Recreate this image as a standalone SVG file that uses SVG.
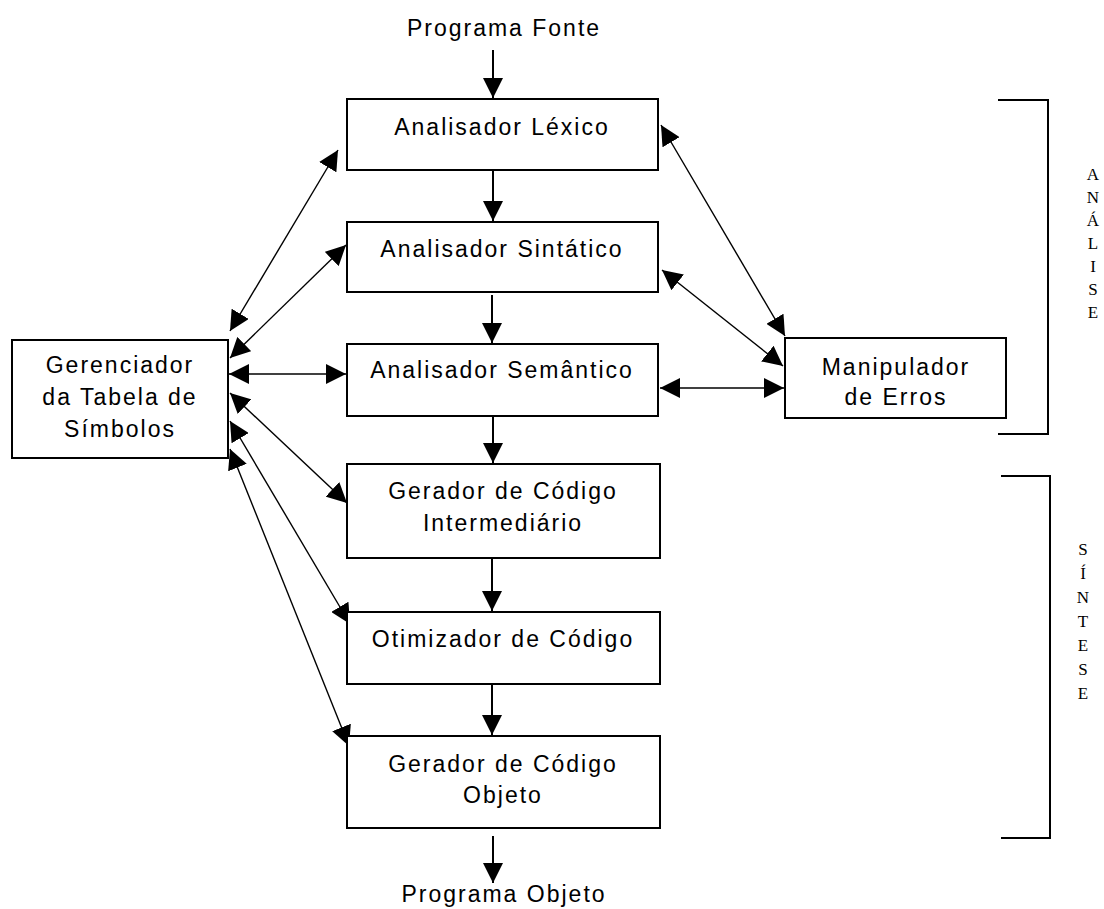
<svg xmlns="http://www.w3.org/2000/svg" width="1104" height="909" viewBox="0 0 1104 909">
<style>
.box{fill:#fff;stroke:#000;stroke-width:2}
.t{font-family:"Liberation Sans",Arial,sans-serif;font-size:23px;letter-spacing:2px;text-anchor:middle;fill:#000}
.v{font-family:"Liberation Serif","Times New Roman",serif;font-size:17px;text-anchor:middle;fill:#000}
.flow{stroke:#000;stroke-width:2;fill:none;marker-end:url(#ah)}
.dbl{stroke:#000;stroke-width:1.4;fill:none;marker-end:url(#ah);marker-start:url(#ah)}
.br{stroke:#000;stroke-width:2;fill:none}
</style>
<defs>
<marker id="ah" markerUnits="userSpaceOnUse" markerWidth="20" markerHeight="20" viewBox="0 0 20 20" refX="20" refY="10" orient="auto-start-reverse">
<path d="M0,0 L20,10 L0,20 z" fill="#000"/>
</marker>
</defs>
<rect width="1104" height="909" fill="#fff"/>
<g id="connectors">
<line class="flow" x1="493" y1="50" x2="493" y2="98"/>
<line class="flow" x1="493" y1="171" x2="493" y2="221"/>
<line class="flow" x1="492" y1="295" x2="492" y2="343"/>
<line class="flow" x1="493" y1="417" x2="493" y2="463"/>
<line class="flow" x1="492" y1="559" x2="492" y2="611"/>
<line class="flow" x1="492" y1="685" x2="492" y2="735"/>
<line class="flow" x1="493" y1="836" x2="493" y2="883"/>
<line class="dbl" x1="230" y1="331" x2="338" y2="150"/>
<line class="dbl" x1="230" y1="358" x2="346" y2="245"/>
<line class="dbl" x1="229" y1="374" x2="346" y2="374"/>
<line class="dbl" x1="230" y1="393" x2="347" y2="503"/>
<line class="dbl" x1="230" y1="421" x2="350" y2="624"/>
<line class="dbl" x1="230" y1="449" x2="349" y2="746"/>
<line class="dbl" x1="661" y1="125" x2="785" y2="336"/>
<line class="dbl" x1="662" y1="270" x2="783" y2="366"/>
<line class="dbl" x1="660" y1="388" x2="784" y2="388"/>
</g>
<g id="src"><text class="t" x="504" y="36">Programa Fonte</text></g>
<g id="lexico"><rect class="box" x="347" y="99" width="311" height="71"/><text class="t" x="502" y="135">Analisador Léxico</text></g>
<g id="sintatico"><rect class="box" x="347" y="222" width="311" height="70"/><text class="t" x="502" y="257">Analisador Sintático</text></g>
<g id="semantico"><rect class="box" x="347" y="344" width="311" height="72"/><text class="t" x="502" y="378">Analisador Semântico</text></g>
<g id="erros"><rect class="box" x="785" y="338" width="221" height="80"/><text class="t" x="896" y="375">Manipulador</text><text class="t" x="896" y="405">de Erros</text></g>
<g id="tabela"><rect class="box" x="12" y="340" width="216" height="118"/><text class="t" x="120" y="373">Gerenciador</text><text class="t" x="120" y="405">da Tabela de</text><text class="t" x="120" y="437">Símbolos</text></g>
<g id="intermediario"><rect class="box" x="347" y="464" width="313" height="94"/><text class="t" x="503" y="499">Gerador de Código</text><text class="t" x="503" y="531">Intermediário</text></g>
<g id="otimizador"><rect class="box" x="347" y="612" width="313" height="72"/><text class="t" x="503" y="647">Otimizador de Código</text></g>
<g id="objeto"><rect class="box" x="347" y="736" width="313" height="92"/><text class="t" x="503" y="772">Gerador de Código</text><text class="t" x="503" y="803">Objeto</text></g>
<g id="dst"><text class="t" x="504" y="902">Programa Objeto</text></g>
<g id="analise">
<path class="br" d="M998,100 H1048 V434 H998"/>
<text class="v" x="1093" y="180">A</text><text class="v" x="1093" y="203">N</text><text class="v" x="1093" y="226">Á</text><text class="v" x="1093" y="249">L</text><text class="v" x="1093" y="272">I</text><text class="v" x="1093" y="295">S</text><text class="v" x="1093" y="318">E</text>
</g>
<g id="sintese">
<path class="br" d="M1001,476 H1050 V838 H1001"/>
<text class="v" x="1083" y="555">S</text><text class="v" x="1083" y="579">Í</text><text class="v" x="1083" y="603">N</text><text class="v" x="1083" y="627">T</text><text class="v" x="1083" y="651">E</text><text class="v" x="1083" y="675">S</text><text class="v" x="1083" y="699">E</text>
</g>
</svg>
